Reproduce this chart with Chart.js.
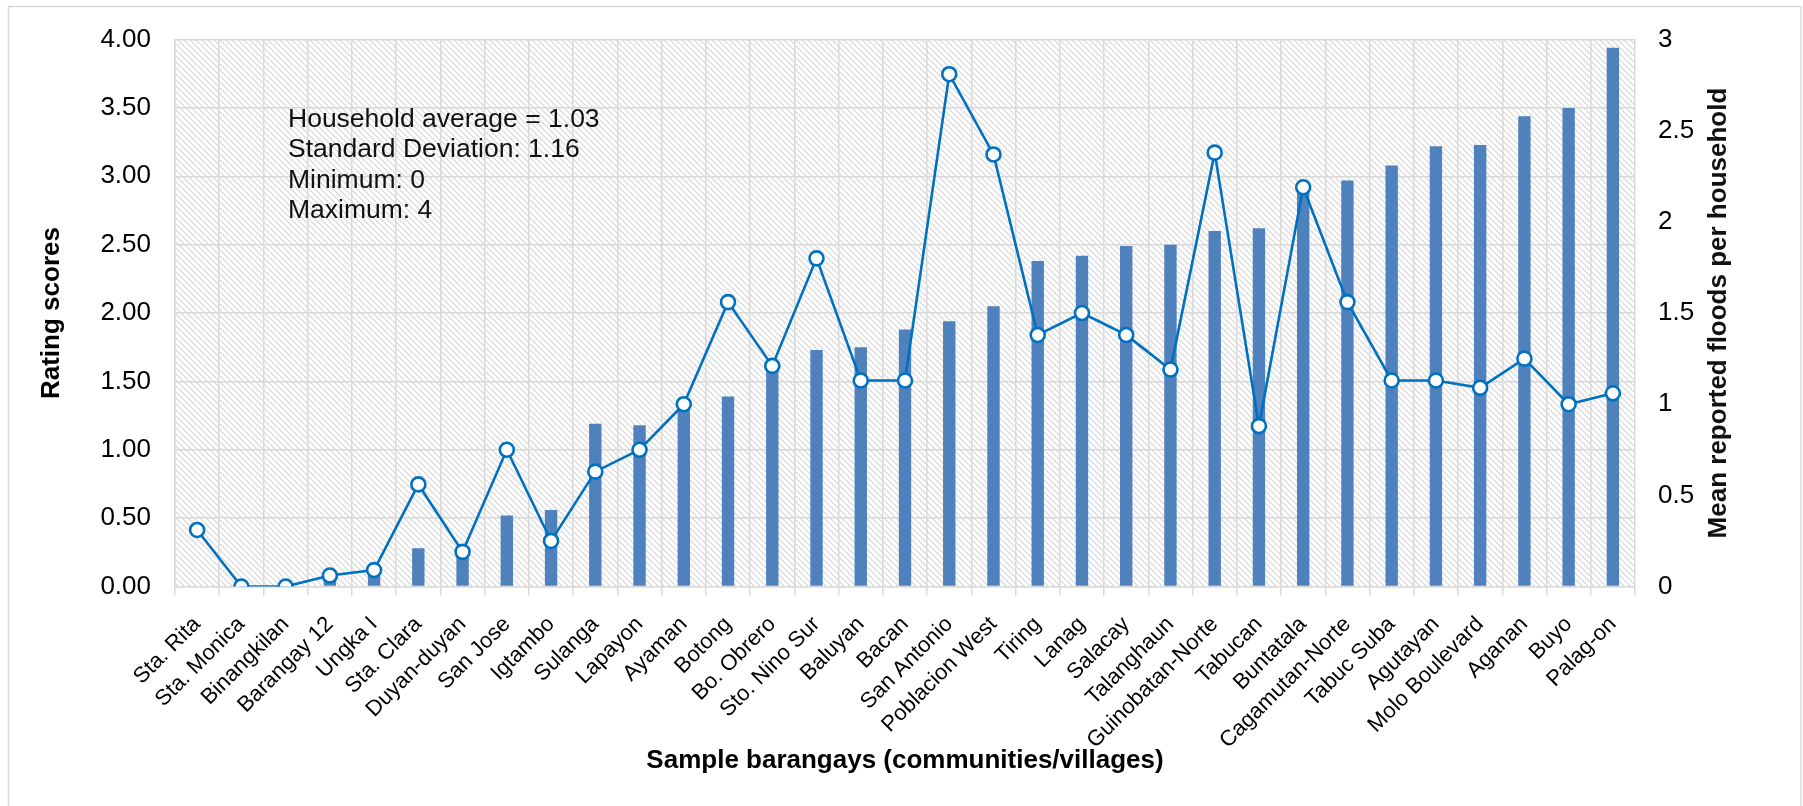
<!DOCTYPE html>
<html>
<head>
<meta charset="utf-8">
<script src="https://cdn.jsdelivr.net/npm/chart.js@4.4.1/dist/chart.umd.min.js"></script>
<style>
  html, body { margin: 0; padding: 0; background: #ffffff; }
  #wrap { position: relative; width: 1803px; height: 806px; }
</style>
</head>
<body>
<div id="wrap"><canvas id="chart" width="1803" height="806"></canvas></div>
<script>
// Sample barangays, ordered by rating score
const barangays = [
  'Sta. Rita', 'Sta. Monica', 'Binangkilan', 'Barangay 12', 'Ungka I', 'Sta. Clara',
  'Duyan-duyan', 'San Jose', 'Igtambo', 'Sulanga', 'Lapayon', 'Ayaman', 'Botong',
  'Bo. Obrero', 'Sto. Nino Sur', 'Baluyan', 'Bacan', 'San Antonio', 'Poblacion West',
  'Tiring', 'Lanag', 'Salacay', 'Talanghaun', 'Guinobatan-Norte', 'Tabucan', 'Buntatala',
  'Cagamutan-Norte', 'Tabuc Suba', 'Agutayan', 'Molo Boulevard', 'Aganan', 'Buyo', 'Palag-on'
];

// Rating scores (left axis, bars)
const ratingScores = [
  0.00, 0.00, 0.00, 0.05, 0.08, 0.28,
  0.24, 0.52, 0.56, 1.19, 1.18, 1.31, 1.39,
  1.60, 1.73, 1.75, 1.88, 1.94, 2.05,
  2.38, 2.42, 2.49, 2.50, 2.60, 2.62, 2.90,
  2.97, 3.08, 3.22, 3.23, 3.44, 3.50, 3.94
];

// Mean reported floods per household (right axis, line)
const floodsPerHousehold = [
  0.31, 0.00, 0.00, 0.06, 0.09, 0.56,
  0.19, 0.75, 0.25, 0.63, 0.75, 1.00, 1.56,
  1.21, 1.80, 1.13, 1.13, 2.81, 2.37,
  1.38, 1.50, 1.38, 1.19, 2.38, 0.88, 2.19,
  1.56, 1.13, 1.13, 1.09, 1.25, 1.00, 1.06
];

// Axis ranges
const ratingAxis = { min: 0, max: 4, step: 0.5 };
const floodAxis = { min: 0, max: 3, step: 0.5 };

// Summary statistics box
const summaryLines = [
  'Household average = 1.03',
  'Standard Deviation: 1.16',
  'Minimum: 0',
  'Maximum: 4'
];

const FONT = "'Liberation Sans', Arial, sans-serif";
const GRID = '#d9d9d9';

// Diagonal hatch used as plot-area fill
function makeHatch() {
  const s = 6;
  const tile = document.createElement('canvas');
  tile.width = s; tile.height = s;
  const t = tile.getContext('2d');
  t.fillStyle = '#ffffff';
  t.fillRect(0, 0, s, s);
  t.strokeStyle = '#d6d6d6';
  t.lineWidth = 1.2;
  t.beginPath();
  t.moveTo(-1, -1); t.lineTo(s + 1, s + 1);
  t.moveTo(-1, s - 1); t.lineTo(1, s + 1);
  t.moveTo(s - 1, -1); t.lineTo(s + 1, 1);
  t.stroke();
  return tile;
}

const decorPlugin = {
  id: 'decor',
  beforeDraw(chart) {
    const { ctx, chartArea: a } = chart;
    ctx.save();
    ctx.fillStyle = '#ffffff';
    ctx.fillRect(0, 0, chart.width, chart.height);
    ctx.fillStyle = ctx.createPattern(makeHatch(), 'repeat');
    ctx.fillRect(a.left, a.top, a.right - a.left, a.bottom - a.top);
    ctx.restore();
  },
  afterDraw(chart) {
    const { ctx, chartArea: a } = chart;
    ctx.save();
    // summary statistics
    ctx.fillStyle = '#111111';
    ctx.font = '26.5px ' + FONT;
    ctx.textAlign = 'left';
    ctx.textBaseline = 'middle';
    summaryLines.forEach((line, i) => {
      ctx.fillText(line, a.left + 113, a.top + 80 + i * 30.5);
    });
    // right axis title, reading bottom to top
    ctx.font = 'bold 26px ' + FONT;
    ctx.textAlign = 'center';
    ctx.translate(1719, (a.top + a.bottom) / 2);
    ctx.rotate(-Math.PI / 2);
    ctx.fillText('Mean reported floods per household', 0, 0);
    ctx.restore();
    // outer frame
    ctx.save();
    ctx.strokeStyle = GRID;
    ctx.lineWidth = 1.5;
    ctx.strokeRect(8.5, 6.5, 1792.5, 900);
    ctx.restore();
  }
};

new Chart(document.getElementById('chart'), {
  data: {
    labels: barangays,
    datasets: [
      {
        type: 'line',
        label: 'Mean reported floods per household',
        data: floodsPerHousehold,
        yAxisID: 'yFloods',
        borderColor: '#0070c0',
        borderWidth: 2.6,
        pointRadius: 7,
        pointBorderWidth: 2.6,
        pointBackgroundColor: '#ffffff',
        pointBorderColor: '#0070c0',
        tension: 0,
        order: 0
      },
      {
        type: 'bar',
        label: 'Rating scores',
        data: ratingScores,
        yAxisID: 'yRating',
        backgroundColor: '#4f81bd',
        barPercentage: 0.28,
        categoryPercentage: 1.0,
        order: 1
      }
    ]
  },
  options: {
    responsive: false,
    animation: false,
    devicePixelRatio: 1,
    layout: { padding: { top: 35.6, left: 0, right: 0, bottom: 0 } },
    plugins: { legend: { display: false }, tooltip: { enabled: false } },
    scales: {
      x: {
        type: 'category',
        offset: true,
        grid: { color: GRID, lineWidth: 1.5, offset: true, drawTicks: true, tickLength: 9, tickColor: GRID },
        border: { color: GRID, width: 1.5 },
        ticks: {
          color: '#000000',
          font: { family: FONT, size: 22 },
          minRotation: 45, maxRotation: 45,
          autoSkip: false,
          padding: 16
        },
        title: {
          display: true,
          text: 'Sample barangays (communities/villages)',
          color: '#000000',
          font: { family: FONT, size: 26, weight: 'bold' },
          padding: { top: 0, bottom: 30 }
        },
        afterFit(scale) { scale.height = 219.5; }
      },
      yRating: {
        type: 'linear',
        position: 'left',
        min: ratingAxis.min, max: ratingAxis.max,
        grid: { color: GRID, lineWidth: 1.5, drawTicks: false },
        border: { color: GRID, width: 1.5 },
        ticks: {
          stepSize: ratingAxis.step,
          color: '#000000',
          font: { family: FONT, size: 26 },
          padding: 24,
          callback: v => Number(v).toFixed(2)
        },
        title: {
          display: true,
          text: 'Rating scores',
          color: '#000000',
          font: { family: FONT, size: 26, weight: 'bold' },
          padding: { top: 36, bottom: 0 }
        },
        afterFit(scale) { scale.width = 175; }
      },
      yFloods: {
        type: 'linear',
        position: 'right',
        min: floodAxis.min, max: floodAxis.max,
        grid: { display: false, drawTicks: false },
        border: { display: false },
        ticks: {
          stepSize: floodAxis.step,
          color: '#000000',
          font: { family: FONT, size: 26 },
          padding: 23,
          callback: v => String(Number(v))
        },
        afterFit(scale) { scale.width = 168; }
      }
    }
  },
  plugins: [decorPlugin]
});
</script>
</body>
</html>
